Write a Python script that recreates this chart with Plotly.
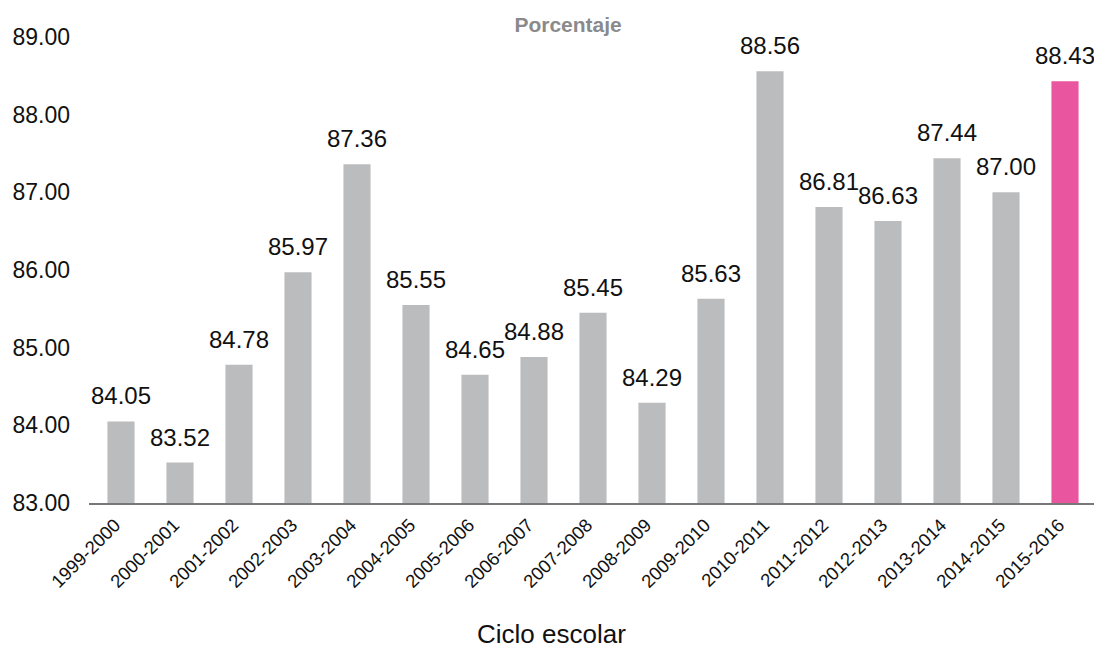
import plotly.graph_objects as go

ciclos = [
    "1999-2000", "2000-2001", "2001-2002", "2002-2003", "2003-2004",
    "2004-2005", "2005-2006", "2006-2007", "2007-2008", "2008-2009",
    "2009-2010", "2010-2011", "2011-2012", "2012-2013", "2013-2014",
    "2014-2015", "2015-2016",
]
porcentaje = [
    84.05, 83.52, 84.78, 85.97, 87.36, 85.55, 84.65, 84.88, 85.45, 84.29,
    85.63, 88.56, 86.81, 86.63, 87.44, 87.00, 88.43,
]
y_ticks = [83, 84, 85, 86, 87, 88, 89]

GRIS = "#BBBCBE"
ROSA = "#EA559F"
FONT = "Liberation Sans, Arial, sans-serif"

colores = [GRIS] * (len(ciclos) - 1) + [ROSA]

fig = go.Figure(
    go.Bar(
        x=ciclos,
        y=porcentaje,
        marker={"color": colores, "line": {"width": 0}},
        cliponaxis=False,
    )
)

# etiquetas de valor encima de cada barra
for c, v in zip(ciclos, porcentaje):
    fig.add_annotation(
        x=c,
        y=v,
        text=f"{v:.2f}",
        showarrow=False,
        yanchor="bottom",
        yshift=10,
        font={"size": 24, "color": "#111111", "family": FONT},
    )

fig.add_annotation(
    text="Ciclo escolar",
    xref="paper",
    yref="paper",
    x=0.459,
    y=-0.281,
    xanchor="center",
    yanchor="middle",
    showarrow=False,
    font={"size": 26, "color": "#111111", "family": FONT},
)

# la página html añade 8px de margen al body: el lienzo se reduce en esa medida
fig.update_layout(
    width=1094,
    height=642,
    margin={"l": 81, "r": 5, "t": 29, "b": 147},
    plot_bgcolor="white",
    paper_bgcolor="white",
    bargap=0.54,
    showlegend=False,
    font={"family": FONT, "color": "#111111"},
    title={
        "text": "<b>Porcentaje</b>",
        "x": 0.512,
        "xanchor": "center",
        "y": 0.9735,
        "yanchor": "middle",
        "font": {"size": 21, "color": "#8A8A8C", "family": FONT},
    },
    xaxis={
        "tickangle": -45,
        "tickfont": {"size": 18.5, "color": "#111111"},
        "showgrid": False,
        "showline": True,
        "linecolor": "#77777A",
        "linewidth": 2,
        "ticks": "",
        "ticklabelshift": -6,
        "ticklabelstandoff": 2,
        "automargin": False,
    },
    yaxis={
        "range": [83, 89],
        "tickvals": y_ticks,
        "ticktext": [f"{v:.2f}" for v in y_ticks],
        "tickfont": {"size": 23, "color": "#111111"},
        "showgrid": False,
        "zeroline": False,
        "showline": False,
        "ticks": "",
        "ticklabelstandoff": 18,
        "automargin": False,
    },
)

fig.write_html("out.html")
